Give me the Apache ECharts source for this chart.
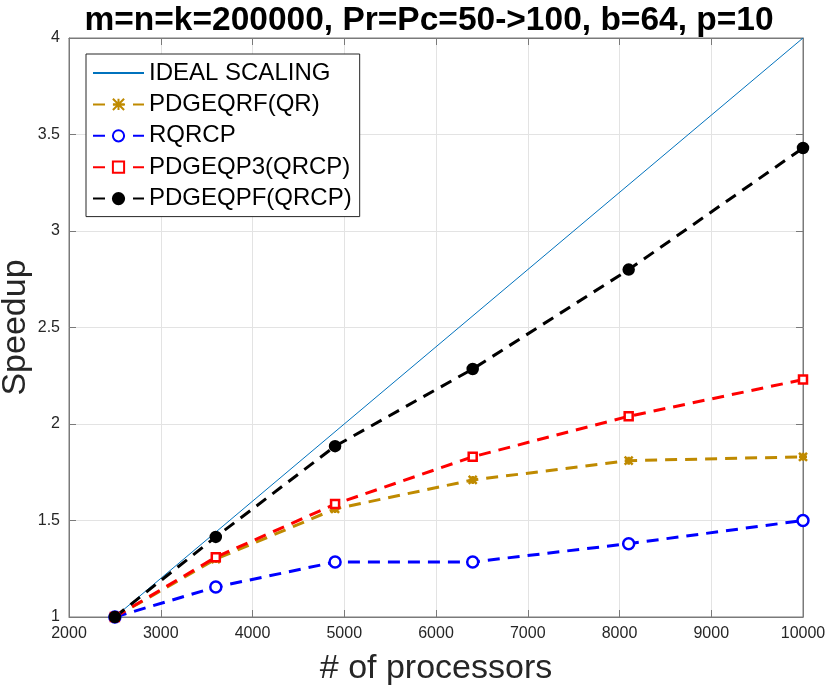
<!DOCTYPE html>
<html>
<head>
<meta charset="utf-8">
<script src="https://cdn.jsdelivr.net/npm/echarts@6/dist/echarts.min.js"></script>
<style>
  html, body { margin: 0; padding: 0; background: #fff; }
  #main { width: 830px; height: 688px; }
</style>
</head>
<body>
<div id="main"></div>
<script>
// processors (Pr*Pc) and measured speedups
const procs = [2500, 3600, 4900, 6400, 8100, 10000];
const ideal = [[2500, 1], [10000, 4]];
const qr = [1, 1.30, 1.56, 1.71, 1.81, 1.83];
const rqrcp = [1, 1.155, 1.285, 1.285, 1.38, 1.50];
const qp3 = [1, 1.31, 1.585, 1.83, 2.04, 2.23];
const qpf = [1, 1.415, 1.885, 2.285, 2.80, 3.43];
const names = ['IDEAL SCALING', 'PDGEQRF(QR)', 'RQRCP', 'PDGEQP3(QRCP)', 'PDGEQPF(QRCP)'];

const font = 'Liberation Sans, Arial, sans-serif';
const xSym = 'path://M0,0 L10,10 M10,0 L0,10 M5,0 L5,10 M0,5 L10,5';

function pairs(vals) {
  return procs.map((p, i) => [p, vals[i]]);
}

function dashed(name, vals, color, symbol, size, fill) {
  return {
    name: name,
    type: 'line',
    data: pairs(vals),
    symbol: symbol,
    symbolSize: size,
    showAllSymbol: true,
    lineStyle: { color: color, width: 3, type: [12, 8] },
    itemStyle: { color: fill, borderColor: color, borderWidth: 2.5 },
    emphasis: { disabled: true },
    z: 3
  };
}

const tickColor = '#7a7a7a';
const labelStyle = { fontFamily: font, fontSize: 16, color: '#262626', margin: 9 };

// the ideal line has no marker, so hide the legend symbol for it
const legendData = names.map((n, i) => i === 0 ? { name: n, itemStyle: { opacity: 0 } } : n);

let chart = echarts.init(document.getElementById('main'));

chart.setOption({
  animation: false,
  backgroundColor: '#fff',
  title: {
    text: 'm=n=k=200000, Pr=Pc=50->100, b=64, p=10',
    left: 424, top: -1, textAlign: 'center',
    textStyle: { fontFamily: font, fontSize: 33.5, fontWeight: 'bold', color: '#000' }
  },
  grid: {
    left: 69, right: 27, top: 38, bottom: 71, outerBoundsMode: 'none',
    show: true, borderColor: tickColor, borderWidth: 1
  },
  legend: {
    orient: 'vertical', left: 86, top: 54,
    data: legendData,
    itemWidth: 51, itemHeight: 14, itemGap: 7.4,
    padding: [7, 8, 6, 6],
    borderColor: '#262626', borderWidth: 1, backgroundColor: '#fff',
    textStyle: { fontFamily: font, fontSize: 24, color: '#000', lineHeight: 24 }
  },
  xAxis: [{
    type: 'value', min: 2000, max: 10000, interval: 1000,
    name: '# of processors', nameLocation: 'middle', nameGap: 35,
    nameTextStyle: { fontFamily: font, fontSize: 34, color: '#262626' },
    axisLine: { show: true, onZero: false, lineStyle: { color: tickColor } },
    axisTick: { show: true, inside: true, length: 7, lineStyle: { color: tickColor } },
    axisLabel: Object.assign({ formatter: v => String(v) }, labelStyle),
    splitLine: { show: true, lineStyle: { color: '#e3e3e3' } }
  }, {
    type: 'value', position: 'top', min: 2000, max: 10000, interval: 1000,
    axisLine: { show: true, lineStyle: { color: tickColor } },
    axisTick: { show: true, inside: true, length: 7, lineStyle: { color: tickColor } },
    axisLabel: { show: false }, splitLine: { show: false }
  }],
  yAxis: [{
    type: 'value', min: 1, max: 4, interval: 0.5,
    name: 'Speedup', nameLocation: 'middle', nameGap: 36, nameMoveOverlap: false,
    nameTextStyle: { fontFamily: font, fontSize: 34, color: '#262626' },
    axisLine: { show: true, onZero: false, lineStyle: { color: tickColor } },
    axisTick: { show: true, inside: true, length: 7, lineStyle: { color: tickColor } },
    axisLabel: labelStyle,
    splitLine: { show: true, lineStyle: { color: '#e3e3e3' } }
  }, {
    type: 'value', position: 'right', min: 1, max: 4, interval: 0.5,
    axisLine: { show: true, lineStyle: { color: tickColor } },
    axisTick: { show: true, inside: true, length: 7, lineStyle: { color: tickColor } },
    axisLabel: { show: false }, splitLine: { show: false }
  }],
  series: [
    {
      name: names[0], type: 'line', data: ideal, symbol: 'none',
      lineStyle: { color: '#0072BD', width: 1 }, itemStyle: { color: '#0072BD' },
      emphasis: { disabled: true }, z: 2
    },
    dashed(names[1], qr, '#BF8A00', xSym, 8, '#BF8A00'),
    dashed(names[2], rqrcp, '#0000FF', 'circle', 11, '#fff'),
    dashed(names[3], qp3, '#FF0000', 'rect', 8, '#fff'),
    dashed(names[4], qpf, '#000000', 'circle', 10, '#000')
  ]
});
</script>
</body>
</html>
